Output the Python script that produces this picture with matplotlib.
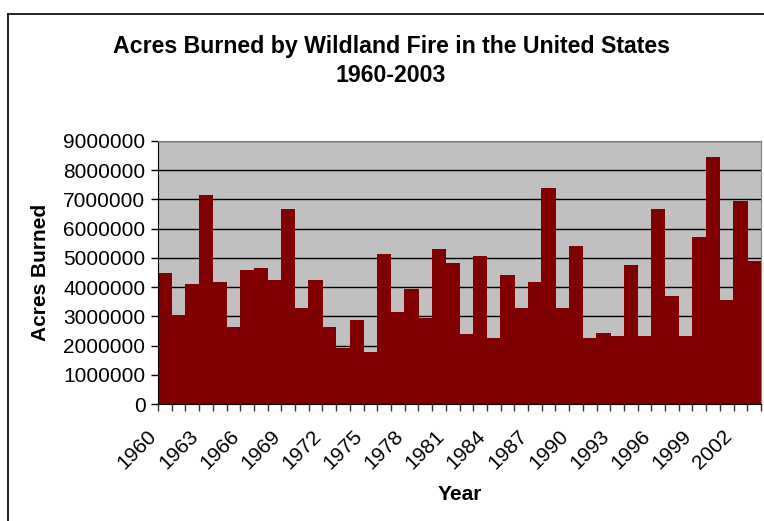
import matplotlib.pyplot as plt
from matplotlib.lines import Line2D

plt.rcParams['font.family'] = ['Liberation Sans', 'DejaVu Sans']

years = list(range(1960, 2004))
acres = [4470000, 3030000, 4090000, 7140000, 4160000, 2650000, 4570000, 4670000,
         4230000, 6690000, 3270000, 4260000, 2650000, 1910000, 2860000, 1790000,
         5120000, 3160000, 3920000, 2960000, 5290000, 4840000, 2380000, 5080000,
         2270000, 4430000, 3300000, 4160000, 7380000, 3270000, 5420000, 2270000,
         2440000, 2310000, 4740000, 2310000, 6690000, 3680000, 2310000, 5700000,
         8440000, 3570000, 6930000, 4910000]
label_years = years[::3]

fig = plt.figure(figsize=(7.64, 5.21), dpi=100)
ax = fig.add_axes([158 / 764, 1 - 404 / 521, 603 / 764, 263 / 521])

x = list(range(len(years)))
# slight overlap so neighbouring bars leave no seam
ax.bar(x, acres, width=1.04, color='#800000', linewidth=0, antialiased=False, zorder=2)
ax.set_facecolor('#c0c0c0')
ax.set_ylim(0, 9000000)
ax.set_yticks(range(0, 9000001, 1000000))
ax.set_yticklabels([str(v) for v in range(0, 9000001, 1000000)], fontsize=15)
ax.yaxis.grid(True, color='black', linewidth=1, zorder=1)
ax.set_axisbelow(True)

# ticks at category boundaries
ax.set_xticks([i - 0.5 for i in range(len(years) + 1)])
ax.set_xticklabels([])
ax.set_xlim(-0.5, len(years) - 0.5)
ax.tick_params(axis='x', length=5, width=1, color='#333333', direction='out')
ax.tick_params(axis='y', length=5, width=1, direction='out', pad=4)

# year labels every 3rd year, slanted like the spreadsheet chart
for yr in label_years:
    ax.annotate(str(yr), xy=(years.index(yr) - 0.8, 0), xycoords=('data', 'axes fraction'),
                xytext=(0, -21), textcoords='offset points', fontsize=15,
                rotation=45, ha='right', va='center', rotation_mode='anchor',
                annotation_clip=False)

for side in ['top', 'right']:
    ax.spines[side].set_color('#808080')
for side in ['left', 'bottom']:
    ax.spines[side].set_color('black')

fig.text(41 / 764, 1 - 272 / 521, 'Acres Burned', rotation=90, ha='center', va='center',
         fontsize=15, fontweight='bold')
fig.text(460 / 764, 1 - 495 / 521, 'Year', ha='center', va='center',
         fontsize=15, fontweight='bold')

fig.text(391 / 764, 1 - 46 / 521, 'Acres Burned by Wildland Fire in the United States',
         ha='center', va='center', fontsize=16.7, fontweight='bold')
fig.text(391 / 764, 1 - 76 / 521, '1960-2003', ha='center', va='center',
         fontsize=16.7, fontweight='bold')

# outer chart frame (left and top edges visible)
fig.add_artist(Line2D([8 / 764, 8 / 764], [0, 1 - 14 / 521], transform=fig.transFigure,
                      color='black', linewidth=1.2))
fig.add_artist(Line2D([8 / 764, 1], [1 - 14 / 521, 1 - 14 / 521], transform=fig.transFigure,
                      color='black', linewidth=1.2))

fig.savefig('out.png', dpi=100)
